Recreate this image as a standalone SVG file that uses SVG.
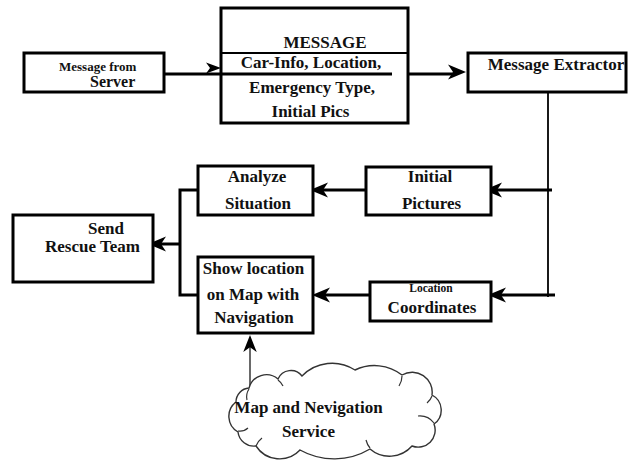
<svg xmlns="http://www.w3.org/2000/svg" xmlns:xlink="http://www.w3.org/1999/xlink" width="629" height="464" viewBox="0 0 629 464">
  <defs>
    <style>
      .box { fill: #fff; stroke: #000; stroke-width: 3; }
      .t { font-family: "Liberation Serif", "Times New Roman", serif; font-weight: bold; font-size: 17px; fill: #111; }
      .m { text-anchor: middle; }
      .wire { fill: none; stroke: #000; stroke-width: 3; }
      .thin { fill: none; stroke: #000; stroke-width: 1.8; }
      .feed { fill: none; stroke: #444; stroke-width: 1.6; }
      .cloud { fill: #fff; stroke: #333; stroke-width: 1.4; }
      .curl { fill: none; stroke: #333; stroke-width: 1.2; }
    </style>
    <!-- notched arrowhead, tip at origin, pointing +x -->
    <path id="ah" d="M0,0 L-18,-7.5 L-13,0 L-18,7.5 Z" fill="#000"/>
    <path id="ahs" d="M0,0 L-15,-5.5 L-11,0 L-15,5.5 Z" fill="#000"/>
  </defs>

  <rect width="629" height="464" fill="#fff"/>

  <!-- connectors -->
  <g id="connectors">
    <line class="wire" x1="164" y1="74" x2="392" y2="74"/>
    <use xlink:href="#ahs" transform="translate(221,68)"/>

    <line class="wire" x1="408" y1="74" x2="455" y2="74"/>
    <use xlink:href="#ah" transform="translate(466,72)"/>

    <line class="thin" x1="548" y1="92" x2="548" y2="297"/>
    <line class="wire" x1="552" y1="190" x2="495" y2="190"/>
    <use xlink:href="#ah" transform="translate(484,190) rotate(180)"/>
    <line class="wire" x1="555" y1="295" x2="498" y2="295"/>
    <use xlink:href="#ah" transform="translate(488,295) rotate(180)"/>

    <line class="wire" x1="366" y1="190" x2="320" y2="190"/>
    <use xlink:href="#ah" transform="translate(310,190) rotate(180)"/>
    <line class="wire" x1="370" y1="295" x2="322" y2="295"/>
    <use xlink:href="#ah" transform="translate(312,295) rotate(180)"/>

    <path class="wire" d="M198,190 H180 V295 H198"/>
    <line class="wire" x1="180" y1="244" x2="158" y2="244"/>
    <use xlink:href="#ah" transform="translate(148,244) rotate(180)"/>

    <line class="feed" x1="250" y1="389" x2="250" y2="346"/>
    <use xlink:href="#ah" transform="translate(250,335) rotate(-90) scale(0.95,0.9)"/>
  </g>

  <g id="server">
    <rect class="box" x="24" y="53" width="140" height="39"/>
    <text class="t" x="59" y="71" style="font-size:13px">Message from</text>
    <text class="t" x="90" y="87" style="font-size:16px">Server</text>
  </g>

  <g id="message">
    <rect class="box" x="221" y="8" width="187" height="115"/>
    <line x1="221" y1="53" x2="408" y2="53" stroke="#000" stroke-width="2.2"/>
    <text class="t m" x="325" y="48">MESSAGE</text>
    <text class="t m" x="311" y="68">Car-Info, Location,</text>
    <line x1="221" y1="74" x2="392" y2="74" stroke="#000" stroke-width="3"/>
    <text class="t m" x="312" y="93">Emergency Type,</text>
    <text class="t m" x="310.5" y="117">Initial Pics</text>
  </g>

  <g id="extractor">
    <rect class="box" x="468" y="53" width="158" height="39"/>
    <text class="t m" x="556" y="70">Message Extractor</text>
  </g>

  <g id="pictures">
    <rect class="box" x="366" y="167" width="125" height="48"/>
    <text class="t m" x="430" y="182">Initial</text>
    <text class="t m" x="431.5" y="209">Pictures</text>
  </g>

  <g id="coordinates">
    <rect class="box" x="370" y="282" width="121" height="39"/>
    <text class="t m" x="431" y="292" style="font-size:11.5px">Location</text>
    <text class="t m" x="432" y="313">Coordinates</text>
  </g>

  <g id="analyze">
    <rect class="box" x="198" y="166" width="115" height="49"/>
    <text class="t m" x="257" y="182">Analyze</text>
    <text class="t m" x="258" y="209">Situation</text>
  </g>

  <g id="showlocation">
    <rect class="box" x="198" y="257" width="115" height="76"/>
    <text class="t m" x="253.5" y="274">Show location</text>
    <text class="t m" x="253" y="300">on Map with</text>
    <text class="t m" x="254" y="323">Navigation</text>
  </g>

  <g id="rescue">
    <rect class="box" x="13" y="215" width="140" height="67"/>
    <text class="t m" x="106" y="233.5">Send</text>
    <text class="t m" x="92.5" y="252">Rescue Team</text>
  </g>

  <g id="mapservice">
    <path class="cloud" d="M236,402
      A14,14 0 0 1 249,388
      A18,18 0 0 1 278,379
      A14,14 0 0 1 302,376
      A42,42 0 0 1 355,370
      A45,45 0 0 1 402,375
      A20,20 0 0 1 432,395
      A17,17 0 0 1 434,424
      A17,17 0 0 1 412,446
      A30,30 0 0 1 370,449
      A70,70 0 0 1 300,450
      A28,28 0 0 1 256,446
      A16,16 0 0 1 238,432
      A18,18 0 0 1 236,402 Z"/>
    <path class="curl" d="M247,400 A14,14 0 0 1 249,389"/>
    <path class="curl" d="M278,380 A16,16 0 0 1 283,386"/>
    <path class="curl" d="M402,376 A18,18 0 0 1 399,386"/>
    <path class="curl" d="M432,396 A16,16 0 0 1 427,403"/>
    <path class="curl" d="M434,423 A18,18 0 0 0 418,416"/>
    <path class="curl" d="M370,448 A20,20 0 0 1 366,440"/>
    <path class="curl" d="M256,446 A18,18 0 0 1 262,438"/>
    <path class="curl" d="M238,431 A12,12 0 0 0 248,428"/>
    <text class="t m" x="308.5" y="413">Map and Nevigation</text>
    <text class="t m" x="308.5" y="437">Service</text>
  </g>
</svg>
